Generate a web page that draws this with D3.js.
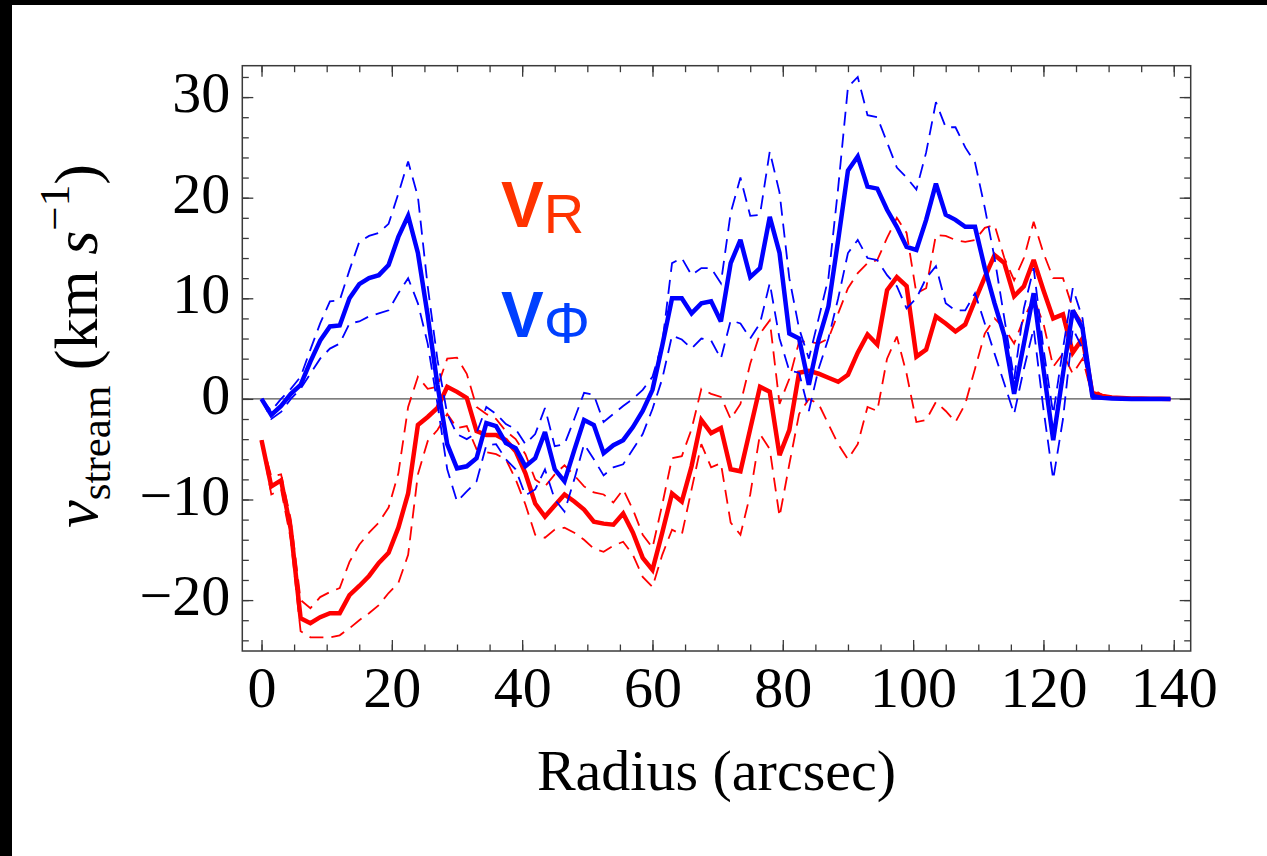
<!DOCTYPE html>
<html>
<head>
<meta charset="utf-8">
<script src="https://cdn.jsdelivr.net/npm/d3@7"></script>
<style>
  html, body { margin: 0; padding: 0; background: #000; }
  svg { display: block; }
</style>
</head>
<body>
<svg id="chart" width="1267" height="856"></svg>
<script>
// Radial bins (arcsec)
const radius = [
  0, 1.5, 3, 4.5, 6, 7.5, 9, 10.5, 12, 13.5, 15, 16.5, 18, 19.5, 21, 22.5, 24, 25.5, 27, 28.5,
  30, 31.5, 33, 34.5, 36, 37.5, 39, 40.5, 42, 43.5, 45, 46.5, 48, 49.5, 51, 52.5, 54, 55.5, 57, 58.5,
  60, 61.5, 63, 64.5, 66, 67.5, 69, 70.5, 72, 73.5, 75, 76.5, 78, 79.5, 81, 82.5, 84, 85.5, 87, 88.5,
  90, 91.5, 93, 94.5, 96, 97.5, 99, 100.5, 102, 103.5, 105, 106.5, 108, 109.5, 111, 112.5, 114, 115.5, 117, 118.5,
  120, 121.5, 123, 124.5, 126, 127.5, 129, 130.5, 132, 133.5, 135, 136.5, 138, 139.5
];

// Radial streaming velocity v_R (km/s) and its upper / lower bounds
const vR = [
  -4.1, -8.7, -8.1, -13.0, -21.8, -22.3, -21.7, -21.3, -21.3, -19.5, -18.6, -17.6, -16.3, -15.3, -12.8, -9.4, -2.6, -1.8, -0.9, 1.2,
  0.7, 0.1, -3.2, -3.6, -3.6, -4.1, -5.2, -7.4, -10.4, -11.7, -10.6, -9.5, -10.2, -11.0, -12.2, -12.4, -12.5, -11.4, -13.3, -15.8,
  -17.0, -13.3, -9.4, -10.2, -6.7, -2.1, -3.4, -2.9, -7.0, -7.2, -3.0, 1.2, 0.7, -5.6, -3.1, 2.6, 2.8, 2.5, 2.1, 1.7,
  2.4, 4.6, 6.4, 5.4, 10.8, 12.1, 11.2, 4.2, 4.9, 8.2, 7.5, 6.7, 7.4, 9.8, 12.1, 14.3, 13.5, 10.2, 11.2, 13.8,
  10.8, 8.0, 8.4, 4.6, 6.0, 0.6, 0.3, 0.15, 0.1, 0.05, 0.03, 0.02, 0.01, 0.0
];
const vRUpper = [
  -4.1, -7.7, -7.5, -12.0, -20.0, -20.8, -19.7, -19.2, -18.8, -16.2, -14.5, -13.3, -12.3, -10.8, -7.4, -0.8, 2.2, 1.0, 1.2, 4.0,
  4.1, 2.5, -0.8, -1.5, -2.0, -3.2, -4.0, -5.5, -8.0, -8.7, -7.5, -6.6, -7.6, -8.7, -9.3, -9.5, -10.3, -9.0, -11.0, -13.5,
  -14.8, -10.5, -5.9, -5.7, -3.0, 1.0, 0.5, 0.2, -2.0, -0.5, 3.5, 6.5, 7.8, -0.5, 2.0, 5.7, 5.7, 5.5, 6.0, 8.5,
  11.0, 12.5, 13.5, 13.8, 16.0, 18.0, 16.5, 10.5, 11.0, 16.3, 16.2, 15.8, 15.6, 15.8, 17.0, 17.3, 14.0, 11.8, 14.0, 17.6,
  14.5, 12.0, 12.0, 9.0, 7.5, 1.0, 0.4, 0.2, 0.1, 0.05, 0.03, 0.02, 0.01, 0.0
];
const vRLower = [
  -4.1, -9.5, -9.0, -14.0, -23.1, -23.7, -23.7, -23.7, -23.5, -22.8, -22.0, -21.3, -20.5, -19.3, -18.3, -15.5, -7.5, -4.2, -3.1, -1.5,
  -2.9, -2.7, -5.0, -5.3, -5.5, -6.0, -8.0, -10.5, -13.5, -13.8, -13.0, -12.8, -13.3, -14.0, -14.9, -15.2, -14.6, -14.2, -15.5, -17.7,
  -18.7, -15.5, -13.0, -13.5, -9.0, -4.5, -6.8, -6.4, -12.3, -13.5, -9.5, -3.5, -5.0, -11.7, -6.5, -1.5, 0.0, -0.5, -2.5, -4.5,
  -6.0, -4.5, -0.8, -1.2, 4.0, 6.2, 2.5, -2.3, -2.1, -0.3, -1.2, -2.3, -0.5, 3.0, 6.5, 8.0, 7.0, 5.5, 8.0, 10.0,
  7.5, 3.2, 4.5, 2.5, 4.0, 0.3, 0.2, 0.1, 0.05, 0.03, 0.02, 0.01, 0.0, 0.0
];

// Azimuthal streaming velocity v_phi (km/s) and its upper / lower bounds
const vPhi = [
  0.0, -1.6, -0.7, 0.5, 1.4, 3.7, 5.8, 7.2, 7.3, 10.0, 11.4, 12.0, 12.3, 13.3, 16.1, 18.2, 14.5, 8.3, 1.4, -4.5,
  -6.9, -6.7, -5.9, -2.4, -2.7, -4.4, -4.9, -6.7, -5.9, -3.3, -7.0, -8.2, -5.1, -2.1, -2.6, -5.4, -4.6, -4.1, -2.8, -1.2,
  0.9, 5.3, 10.0, 10.0, 8.5, 9.5, 9.7, 7.7, 13.5, 15.8, 12.1, 13.0, 18.1, 14.5, 6.5, 6.0, 1.4, 5.9, 9.2, 15.8,
  22.7, 24.1, 21.1, 20.9, 18.8, 17.1, 15.1, 14.8, 17.8, 21.4, 18.3, 17.8, 17.1, 17.1, 13.0, 9.5, 6.3, 0.5, 5.5, 10.5,
  3.0, -4.1, 2.5, 8.8, 7.0, 0.3, 0.1, 0.05, 0.02, 0.0, 0.0, 0.0, 0.0, 0.0
];
const vPhiUpper = [
  0.0, -1.2, 0.0, 1.0, 2.2, 4.9, 7.5, 9.7, 9.8, 12.8, 15.6, 16.2, 16.5, 17.4, 20.4, 23.6, 20.1, 11.2, 3.9, -1.5,
  -3.5, -4.0, -3.4, -0.8, -1.5, -2.5, -3.0, -4.5, -3.5, -0.9, -4.7, -4.5, -2.0, 0.6, 0.4, -2.3, -1.5, -0.7, 0.0, 0.9,
  2.2, 5.5, 13.5, 14.0, 12.3, 13.0, 13.0, 11.5, 18.5, 22.0, 18.2, 18.3, 24.6, 20.5, 12.0, 7.0, 4.0, 8.0, 12.0, 21.0,
  31.0, 32.0, 28.2, 28.0, 25.5, 23.0, 22.0, 20.8, 24.5, 29.5, 27.0, 27.0, 25.0, 23.5, 19.0, 14.0, 8.0, 2.0, 9.0, 13.0,
  5.0, -1.5, 5.0, 11.0, 8.0, 0.5, 0.2, 0.1, 0.05, 0.0, 0.0, 0.0, 0.0, 0.0
];
const vPhiLower = [
  0.0, -2.0, -1.3, 0.0, 1.0, 2.5, 4.0, 5.0, 5.5, 7.5, 7.7, 8.2, 8.5, 8.8, 10.5, 12.0, 9.5, 5.5, -0.5, -7.0,
  -10.2, -9.2, -8.2, -4.6, -4.5, -6.0, -7.0, -9.6, -9.0, -7.0, -10.0, -11.2, -8.0, -4.5, -6.0, -7.6, -6.8, -6.5, -5.0, -3.5,
  -1.0, 2.0, 6.3, 5.9, 5.0, 6.0, 5.8, 4.0, 7.8, 7.5, 6.0, 7.5, 11.5, 6.0, 2.8, 2.6, -1.2, 3.0, 6.0, 10.0,
  14.5, 15.8, 14.0, 13.8, 12.3, 11.2, 9.0, 10.0, 12.0, 13.2, 9.5, 8.8, 8.8, 10.5, 7.5, 4.5, 1.5, -1.5, 3.0, 7.0,
  -1.0, -8.0, -2.0, 7.0, 5.0, 0.0, 0.0, 0.0, 0.0, 0.0, 0.0, 0.0, 0.0, 0.0
];

// Axis ticks
const xTicks = [0, 20, 40, 60, 80, 100, 120, 140];
const xTickLabels = ["0", "20", "40", "60", "80", "100", "120", "140"];
const xMinorTicks = [0, 5, 10, 15, 20, 25, 30, 35, 40, 45, 50, 55, 60, 65, 70, 75, 80, 85, 90, 95, 100, 105, 110, 115, 120, 125, 130, 135, 140];
const yTicks = [-20, -10, 0, 10, 20, 30];
const yTickLabels = ["\u221220", "\u221210", "0", "10", "20", "30"];
const yMinorTicks = [-24, -22, -20, -18, -16, -14, -12, -10, -8, -6, -4, -2, 0, 2, 4, 6, 8, 10, 12, 14, 16, 18, 20, 22, 24, 26, 28, 30, 32];

const W = 1267, H = 856;
const plot = { left: 242.3, right: 1190.7, top: 65.7, bottom: 651 };
const serif = "'Liberation Serif', 'Times New Roman', Times, serif";
const sans = "'Liberation Sans', Arial, Helvetica, sans-serif";
const frameColor = "#3a3a3a";

const svg = d3.select("#chart");

// page: black surround with a white sheet
svg.append("rect").attr("width", W).attr("height", H).attr("fill", "#000");
svg.append("rect").attr("x", 12).attr("y", 5).attr("width", W - 12).attr("height", H - 5).attr("fill", "#fff");

const x = d3.scaleLinear().domain([-2.95, 142.6]).range([plot.left, plot.right]);
const y = d3.scaleLinear().domain([-25.06, 33.12]).range([plot.bottom, plot.top]);

svg.append("defs").append("clipPath").attr("id", "plotClip")
  .append("rect")
  .attr("x", plot.left).attr("y", plot.top)
  .attr("width", plot.right - plot.left).attr("height", plot.bottom - plot.top);

// zero reference line
svg.append("line")
  .attr("x1", plot.left).attr("x2", plot.right)
  .attr("y1", y(0)).attr("y2", y(0))
  .attr("stroke", "#555").attr("stroke-width", 1.3);

// curves
const line = d3.line().x((d, i) => x(radius[i])).y(d => y(d));
const curves = svg.append("g").attr("clip-path", "url(#plotClip)");

function drawCurve(values, color, width, dash) {
  curves.append("path")
    .datum(values)
    .attr("d", line)
    .attr("fill", "none")
    .attr("stroke", color)
    .attr("stroke-width", width)
    .attr("stroke-linejoin", "miter")
    .attr("stroke-miterlimit", 3)
    .attr("stroke-dasharray", dash || null);
}

drawCurve(vRUpper, "#ff0000", 1.8, "14,8");
drawCurve(vRLower, "#ff0000", 1.8, "14,8");
drawCurve(vR, "#ff0000", 4.5);
drawCurve(vPhiUpper, "#0000ff", 1.8, "14,8");
drawCurve(vPhiLower, "#0000ff", 1.8, "14,8");
drawCurve(vPhi, "#0000ff", 4.5);

// axes: ticks point inward on all four sides
function styleAxis(g) {
  g.select(".domain").remove();
  g.selectAll(".tick line").attr("stroke", frameColor).attr("stroke-width", 1.3);
}

const majorLen = 11, minorLen = 6.5;

// bottom
svg.append("g").attr("transform", `translate(0,${plot.bottom})`)
  .call(d3.axisBottom(x).tickValues(xMinorTicks).tickSize(-minorLen).tickFormat(""))
  .call(styleAxis);
const xAxisG = svg.append("g").attr("transform", `translate(0,${plot.bottom})`)
  .call(d3.axisBottom(x).tickValues(xTicks).tickSize(-majorLen).tickFormat((d, i) => xTickLabels[i]))
  .call(styleAxis);
xAxisG.selectAll(".tick text")
  .attr("y", 56).attr("dy", null)
  .attr("font-family", serif).attr("font-size", 58).attr("fill", "#000");

// top
svg.append("g").attr("transform", `translate(0,${plot.top})`)
  .call(d3.axisTop(x).tickValues(xMinorTicks).tickSize(-minorLen).tickFormat(""))
  .call(styleAxis);
svg.append("g").attr("transform", `translate(0,${plot.top})`)
  .call(d3.axisTop(x).tickValues(xTicks).tickSize(-majorLen).tickFormat(""))
  .call(styleAxis);

// left
svg.append("g").attr("transform", `translate(${plot.left},0)`)
  .call(d3.axisLeft(y).tickValues(yMinorTicks).tickSize(-minorLen).tickFormat(""))
  .call(styleAxis);
const yAxisG = svg.append("g").attr("transform", `translate(${plot.left},0)`)
  .call(d3.axisLeft(y).tickValues(yTicks).tickSize(-majorLen).tickFormat((d, i) => yTickLabels[i]))
  .call(styleAxis);
yAxisG.selectAll(".tick text")
  .attr("x", -12).attr("dy", 14.7)
  .attr("text-anchor", "end")
  .attr("font-family", serif).attr("font-size", 58).attr("fill", "#000");

// right
svg.append("g").attr("transform", `translate(${plot.right},0)`)
  .call(d3.axisRight(y).tickValues(yMinorTicks).tickSize(-minorLen).tickFormat(""))
  .call(styleAxis);
svg.append("g").attr("transform", `translate(${plot.right},0)`)
  .call(d3.axisRight(y).tickValues(yTicks).tickSize(-majorLen).tickFormat(""))
  .call(styleAxis);

// frame
svg.append("rect")
  .attr("x", plot.left).attr("y", plot.top)
  .attr("width", plot.right - plot.left).attr("height", plot.bottom - plot.top)
  .attr("fill", "none").attr("stroke", frameColor).attr("stroke-width", 1.5);

// axis titles
svg.append("text")
  .attr("x", (plot.left + plot.right) / 2).attr("y", 790)
  .attr("text-anchor", "middle")
  .attr("font-family", serif).attr("font-size", 58).attr("fill", "#000")
  .text("Radius (arcsec)");

const yTitle = svg.append("text")
  .attr("transform", "translate(97,346) rotate(-90)")
  .attr("text-anchor", "middle")
  .attr("font-family", serif).attr("font-size", 62).attr("fill", "#000");
yTitle.append("tspan").attr("font-style", "italic").text("v");
yTitle.append("tspan").attr("font-size", 43).attr("dy", 13).text("stream");
yTitle.append("tspan").attr("dy", -13).text("\u00a0(km\u00a0");
yTitle.append("tspan").attr("font-style", "italic").text("s");
yTitle.append("tspan").attr("font-size", 43).attr("dy", -28).text("\u22121");
yTitle.append("tspan").attr("dy", 28).text(")");

// series labels
const labR = svg.append("text")
  .attr("x", 501).attr("y", 227)
  .attr("font-family", sans).attr("fill", "#ff3300");
labR.append("tspan").attr("font-size", 64).attr("font-weight", "bold").text("V");
labR.append("tspan").attr("font-size", 56).attr("dy", 6).text("R");

const labP = svg.append("text")
  .attr("x", 501).attr("y", 337)
  .attr("font-family", sans).attr("fill", "#0040ff");
labP.append("tspan").attr("font-size", 64).attr("font-weight", "bold").text("V");
labP.append("tspan").attr("font-size", 58).attr("dy", 6).text("\u03a6");
</script>
</body>
</html>
